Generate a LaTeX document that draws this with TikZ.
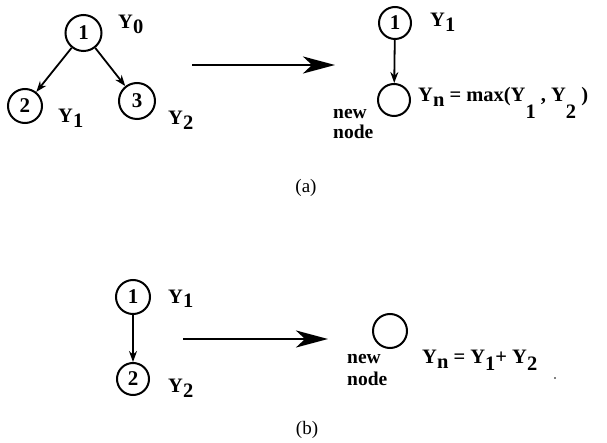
\documentclass[tikz,border=0pt]{standalone}
\usepackage{fontspec}
\setmainfont{Liberation Serif}
\usetikzlibrary{arrows.meta}
\newcommand{\lsub}[2][5pt]{\raisebox{-#1}{#2}}
\begin{document}
\begin{tikzpicture}[x=1pt,y=-1pt,
  vert/.style={circle,draw,line width=2pt,minimum size=34pt,inner sep=0pt,font=\fontsize{21}{21}\selectfont\bfseries},
  lbl/.style={anchor=base west,inner sep=0pt,font=\fontsize{20.5}{20.5}\selectfont\bfseries},
  twoline/.style={anchor=north west,inner sep=0pt,align=left},
  edgearrow/.style={-{Stealth[length=11pt,width=8pt]},line width=1.8pt},
  bigarrow/.style={-{Stealth[length=32pt,width=17pt,inset=9pt]},line width=2.7pt},
  captext/.style={font=\fontsize{19}{19}\selectfont}]
\useasboundingbox (0,0) rectangle (607,443);
% (a) left tree
\node[vert,minimum size=36pt] (A1) at (83.5,33) {1};
\node[vert] (A2) at (25,106) {2};
\node[vert,minimum size=36pt] (A3) at (137,101) {3};
\draw[edgearrow] (A1) -- (A2);
\draw[edgearrow] (A1) -- (A3);
\node[lbl] (Y0) at (118,29) {Y\lsub{0}};
\node[lbl] (Y1a) at (58,123) {Y\lsub{1}};
\node[lbl] (Y2a) at (168,125) {Y\lsub{2}};
% (a) big arrow
\coordinate (pa) at (192,65);
\coordinate (qa) at (335,65);
\draw[bigarrow] (pa) -- (qa);
% (a) right
\node[vert,minimum size=32pt] (B1) at (395,23) {1};
\node[vert,minimum size=32pt] (Bn) at (394,100) {};
\draw[edgearrow] (B1) -- (Bn);
\node[lbl] (Y1b) at (430,27) {Y\lsub{1}};
\node[twoline,font=\fontsize{19.5}{20}\selectfont\bfseries] (newa) at (333,109) {new\\node};
\node[lbl] (Fa) at (418,102) {Y\lsub{n} = max(Y\lsub[17pt]{1} , Y\lsub[17pt]{2} )};
\node[captext] (capa) at (306,188) {(a)};
% (b) left
\node[vert] (C1) at (133,297) {1};
\node[vert,minimum size=32pt] (C2) at (133,379) {2};
\draw[edgearrow] (C1) -- (C2);
\node[lbl] (Y1c) at (168,303) {Y\lsub{1}};
\node[lbl] (Y2c) at (168,392) {Y\lsub{2}};
% (b) big arrow
\coordinate (pb) at (183,339);
\coordinate (qb) at (328,339);
\draw[bigarrow] (pb) -- (qb);
% (b) right
\node[vert] (Cn) at (390,331) {};
\node[twoline,font=\fontsize{19.5}{22}\selectfont\bfseries] (newb) at (347,354) {new\\node};
\node[lbl] (Fb) at (422,363) {Y\lsub{n} = Y\lsub[7pt]{1}+ Y\lsub[7pt]{2}};
\fill (555,378) circle (0.9);
\node[captext] (capb) at (307,430) {(b)};
\end{tikzpicture}
\end{document}
